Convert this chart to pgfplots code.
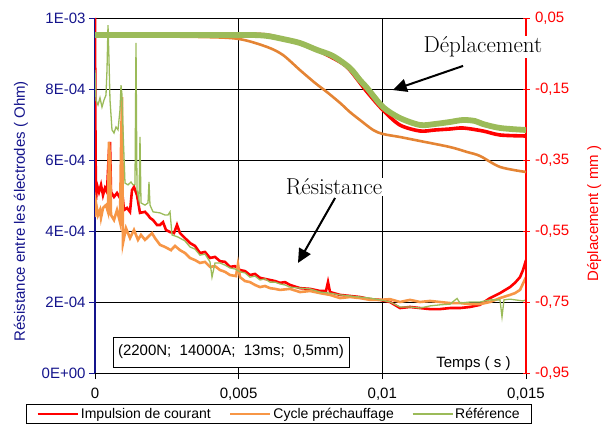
\documentclass[border=0pt]{standalone}
\usepackage{fontspec}
\usepackage{pgfplots}
\pgfplotsset{compat=1.18}
\usetikzlibrary{arrows.meta}
\newfontfamily\arial{Liberation Sans}
\definecolor{navyb}{RGB}{20,20,140}
\definecolor{xred}{RGB}{255,0,0}
\definecolor{xorange}{RGB}{247,150,70}
\definecolor{xorangeD}{RGB}{228,132,52}
\definecolor{xgreen}{RGB}{155,187,89}
\newcommand\tfont{\arial\fontsize{15bp}{18bp}\selectfont}
\begin{document}
\begin{tikzpicture}
\useasboundingbox (0,0) rectangle (602bp,427bp);
\begin{axis}[
  at={(95bp,54bp)}, anchor=south west,
  scale only axis, width=431bp, height=355bp,
  xmin=0, xmax=0.015, ymin=0, ymax=0.001,
  scaled x ticks=false, scaled y ticks=false,
  axis x line*=bottom, axis y line*=left,
  xtick={0,0.005,0.01,0.015}, xticklabels={0,{0,005},{0,01},{0,015}},
  ytick={0,0.0002,0.0004,0.0006,0.0008,0.001},
  yticklabels={0E+00,2E-04,4E-04,6E-04,8E-04,1E-03},
  grid=major, major grid style={black, line width=0.8bp},
  tick align=outside, major tick length=6bp,
  x axis line style={black, line width=0.8bp, -},
  y axis line style={navyb, line width=1.2bp, -},
  xtick style={black, line width=0.8bp},
  ytick style={navyb, line width=0.8bp},
  ticklabel style={font=\tfont},
  xticklabel style={yshift=-6bp},
  yticklabel style={navyb},
  ylabel={Résistance entre les électrodes ( Ohm)},
  ylabel style={font=\tfont, navyb, at={(axis description cs:-0.172,0.456)}, anchor=center},
  legend columns=3,
  legend style={at={(axis description cs:0.427,-0.1155)}, anchor=center, draw=black, line width=0.8bp, fill=white,
    font=\arial\fontsize{14bp}{17bp}\selectfont, inner xsep=10bp, inner ysep=1.5bp,
    /tikz/every even column/.append style={column sep=16bp}},
  legend image code/.code={\draw[#1] (0bp,0bp) -- (40bp,0bp);},
]
\addplot[xred, line width=2.6bp] coordinates {
(0,1.0e-3) (0.0000174,6.48e-4) (0.0000348,4.87e-4) (0.0000696,5.30e-4) (0.0001392,5.10e-4)
(0.0002088,5.30e-4) (0.0002784,5.01e-4) (0.000348,5.21e-4) (0.0004176,5.10e-4) (0.0004872,6.28e-4)
(0.000522,6.51e-4) (0.0005568,5.10e-4) (0.0006613,4.96e-4) (0.0007657,5.07e-4) (0.0008701,4.93e-4)
(0.0009397,5.15e-4) (0.0010093,4.59e-4) (0.0011137,4.65e-4) (0.0012181,4.54e-4) (0.0012877,5.15e-4)
(0.0013573,5.24e-4) (0.0014617,5.01e-4) (0.0015661,4.51e-4) (0.0017402,4.54e-4) (0.0018446,4.45e-4)
(0.0019142,4.37e-4) (0.0020186,4.31e-4) (0.0021578,4.17e-4) (0.0022622,4.17e-4) (0.0023666,4.25e-4)
(0.002471,4.03e-4) (0.0026102,3.97e-4) (0.0027494,3.94e-4) (0.0028538,4.17e-4) (0.0029583,3.94e-4)
(0.0031323,3.80e-4) (0.0033063,3.66e-4) (0.0034803,3.58e-4) (0.0036543,3.38e-4) (0.0038283,3.41e-4)
(0.0040023,3.24e-4) (0.0041764,3.27e-4) (0.0043504,3.15e-4) (0.0045244,3.13e-4) (0.0046984,2.99e-4)
(0.0048724,3.01e-4) (0.0050464,2.90e-4) (0.0052205,2.87e-4) (0.0053945,2.76e-4) (0.0055685,2.79e-4)
(0.0057425,2.68e-4) (0.0059165,2.65e-4) (0.0060905,2.62e-4) (0.0062645,2.59e-4) (0.0064386,2.54e-4)
(0.0066126,2.56e-4) (0.0067866,2.48e-4) (0.0071346,2.39e-4) (0.0074826,2.37e-4) (0.0078307,2.31e-4)
(0.0080395,2.31e-4) (0.0081091,2.56e-4) (0.0081787,2.28e-4) (0.0085267,2.20e-4) (0.0088748,2.17e-4)
(0.0092228,2.14e-4) (0.0095708,2.08e-4) (0.0099189,2.06e-4) (0.0102669,2.00e-4) (0.0106149,1.83e-4)
(0.0109629,1.86e-4) (0.011311,1.83e-4) (0.011659,1.80e-4) (0.012007,1.80e-4) (0.012355,1.83e-4)
(0.012703,1.83e-4) (0.013051,1.86e-4) (0.013399,1.92e-4) (0.013747,2.11e-4) (0.014095,2.25e-4)
(0.014443,2.42e-4) (0.014617,2.54e-4) (0.014791,2.70e-4) (0.014896,2.90e-4) (0.015,3.18e-4)
};
\addlegendentry{Impulsion de courant}
\addplot[xorange, line width=2.6bp] coordinates {
(0,4.39e-4) (0.0000348,4.79e-4) (0.0001044,4.45e-4) (0.000174,4.59e-4) (0.0002088,4.37e-4)
(0.0002784,4.65e-4) (0.0003828,4.73e-4) (0.0004524,4.54e-4) (0.0004872,6.51e-4) (0.000522,6.00e-4)
(0.0005568,4.45e-4) (0.0006613,4.31e-4) (0.0007657,4.59e-4) (0.0008701,4.25e-4) (0.0009049,6.28e-4)
(0.0009397,7.77e-4) (0.0009745,3.66e-4) (0.0010789,4.08e-4) (0.0012181,3.80e-4) (0.0013573,4.03e-4)
(0.0014965,3.75e-4) (0.0016009,3.89e-4) (0.0017402,3.75e-4) (0.0018446,3.83e-4) (0.0019838,3.94e-4)
(0.0020882,3.80e-4) (0.0022622,3.61e-4) (0.0024362,3.55e-4) (0.002645,3.46e-4) (0.0027842,3.58e-4)
(0.0029583,3.46e-4) (0.0031323,3.38e-4) (0.0033063,3.24e-4) (0.0034803,3.18e-4) (0.0036543,3.10e-4)
(0.0038283,3.13e-4) (0.0040023,2.99e-4) (0.0041764,3.01e-4) (0.0043504,2.90e-4) (0.0045244,2.85e-4)
(0.0046984,2.76e-4) (0.0049072,2.73e-4) (0.0049768,3.07e-4) (0.0050464,2.70e-4) (0.0052205,2.59e-4)
(0.0053945,2.56e-4) (0.0055685,2.48e-4) (0.0057425,2.42e-4) (0.0059165,2.45e-4) (0.0060905,2.39e-4)
(0.0062645,2.37e-4) (0.0064386,2.34e-4) (0.0067866,2.37e-4) (0.0071346,2.28e-4) (0.0074826,2.31e-4)
(0.0078307,2.25e-4) (0.0081787,2.20e-4) (0.0085267,2.11e-4) (0.0088748,2.14e-4) (0.0092228,2.11e-4)
(0.0095708,2.06e-4) (0.0099189,2.06e-4) (0.0102669,2.08e-4) (0.0106149,2.00e-4) (0.0109629,2.06e-4)
(0.011311,2.00e-4) (0.011659,2.03e-4) (0.012007,2.00e-4) (0.012355,1.97e-4) (0.012703,1.97e-4)
(0.013051,1.94e-4) (0.013399,1.94e-4) (0.013747,2.00e-4) (0.014095,2.11e-4) (0.014443,2.20e-4)
(0.014617,2.25e-4) (0.014791,2.34e-4) (0.015,2.70e-4)
};
\addlegendentry{Cycle préchauffage}
\addplot[xgreen, line width=1.3bp] coordinates {
(0,8.54e-4) (0.0000348,7.69e-4) (0.0001044,7.55e-4) (0.000174,7.75e-4) (0.0002436,7.49e-4)
(0.0003132,7.69e-4) (0.0003828,7.83e-4) (0.0004176,8.54e-4) (0.0004524,9.80e-4) (0.0004872,8.82e-4)
(0.000522,7.69e-4) (0.0005916,6.85e-4) (0.0006613,6.76e-4) (0.0007309,6.93e-4) (0.0008005,6.85e-4)
(0.0008701,7.41e-4) (0.0009049,8.11e-4) (0.0009397,7.83e-4) (0.0009745,6.85e-4) (0.0010441,5.35e-4)
(0.0011485,5.30e-4) (0.0012529,5.38e-4) (0.0013225,5.30e-4) (0.0013921,5.30e-4) (0.0014269,9.30e-4)
(0.0014617,5.15e-4) (0.0015313,4.87e-4) (0.0015661,6.65e-4) (0.0016009,4.79e-4) (0.0017402,4.73e-4)
(0.0018446,4.79e-4) (0.0018794,5.38e-4) (0.0019142,4.73e-4) (0.0020186,4.54e-4) (0.0022622,4.51e-4)
(0.0024362,4.45e-4) (0.0025406,4.45e-4) (0.0026102,4.54e-4) (0.0026798,3.89e-4) (0.0028886,3.83e-4)
(0.0031323,3.72e-4) (0.0033063,3.55e-4) (0.0034803,3.49e-4) (0.0036543,3.32e-4) (0.0038283,3.35e-4)
(0.0040023,3.13e-4) (0.004072,2.70e-4) (0.0041764,3.10e-4) (0.0043504,3.10e-4) (0.0045244,3.04e-4)
(0.0046984,2.96e-4) (0.0048724,2.93e-4) (0.0050464,2.85e-4) (0.0052205,2.82e-4) (0.0053945,2.70e-4)
(0.0055685,2.73e-4) (0.0057425,2.62e-4) (0.0059165,2.65e-4) (0.0060905,2.56e-4) (0.0062645,2.56e-4)
(0.0064386,2.51e-4) (0.0066126,2.48e-4) (0.0067866,2.42e-4) (0.0071346,2.39e-4) (0.0074826,2.37e-4)
(0.0078307,2.28e-4) (0.0081787,2.25e-4) (0.0085267,2.20e-4) (0.0088748,2.17e-4) (0.0092228,2.14e-4)
(0.0095708,2.11e-4) (0.0099189,2.06e-4) (0.0102669,2.00e-4) (0.0106149,1.86e-4) (0.0109629,1.86e-4)
(0.011311,1.83e-4) (0.011659,1.89e-4) (0.012007,1.92e-4) (0.012355,1.94e-4) (0.0126,2.10e-4)
(0.012703,1.97e-4) (0.013051,2.00e-4) (0.013399,2.00e-4) (0.013747,2.06e-4) (0.014095,2.06e-4)
(0.014165,1.58e-4) (0.014234,2.06e-4) (0.014443,2.08e-4) (0.014896,2.03e-4) (0.015,2.06e-4)
};
\addlegendentry{Référence}
\node[font=\tfont] at (rel axis cs:0.878,0.026) {Temps ( s )};
\node[draw=black, fill=white, line width=0.8bp, inner xsep=5bp, minimum height=30bp, font=\tfont]
  at (rel axis cs:0.3155,0.059) {(2200N;\ \ 14000A;\ \ 13ms;\ \ 0,5mm)};
\end{axis}
\begin{axis}[
  at={(95bp,54bp)}, anchor=south west,
  scale only axis, width=431bp, height=355bp, clip=false,
  xmin=0, xmax=0.015, ymin=-0.95, ymax=0.05,
  scaled x ticks=false, scaled y ticks=false,
  axis x line=none, axis y line*=right,
  ytick={-0.95,-0.75,-0.55,-0.35,-0.15,0.05},
  yticklabels={{-0,95},{-0,75},{-0,55},{-0,35},{-0,15},{0,05}},
  tick align=center, major tick length=7bp,
  y axis line style={xred, line width=1.2bp, -},
  ytick style={xred, line width=0.8bp},
  yticklabel style={xred, font=\tfont, xshift=2bp},
  ylabel={Déplacement ( mm )},
  ylabel style={font=\tfont, xred, at={(axis description cs:1.158,0.449)}, anchor=center},
]
\addplot[xorangeD, line width=2.6bp, smooth] coordinates {
(0,-0.0007) (0.00365,-0.0035) (0.00501,-0.0092) (0.00599,-0.0317) (0.00654,-0.0542)
(0.00713,-0.0965) (0.00766,-0.1331) (0.00807,-0.1585) (0.00853,-0.1894) (0.00887,-0.2148)
(0.00922,-0.2373) (0.00968,-0.2655) (0.01002,-0.2768) (0.01061,-0.2852) (0.01131,-0.2965)
(0.01235,-0.3134) (0.01295,-0.3275) (0.0134,-0.3387) (0.0141,-0.3697) (0.015,-0.3838)
};
\addplot[xred, line width=3.6bp, smooth] coordinates {
(0,0.0021) (0.0037,0.0035) (0.0054,0.0035) (0.00599,0.0021) (0.00654,-0.0092) (0.00713,-0.0204)
(0.00773,-0.0401) (0.00853,-0.0739) (0.00887,-0.0965) (0.00947,-0.1585) (0.01002,-0.2092)
(0.01061,-0.2514) (0.01131,-0.2683) (0.01183,-0.2655) (0.01235,-0.2627) (0.01281,-0.2599)
(0.0135,-0.2683) (0.0141,-0.2796) (0.015,-0.2824)
};
\addplot[xgreen, line width=5.8bp, smooth] coordinates {
(0,0.0021) (0.0019,0.0021) (0.0037,0.0021) (0.0054,0.0021) (0.006,-0.0007) (0.00654,-0.0092)
(0.00713,-0.0204) (0.00773,-0.0401) (0.00828,-0.057) (0.00887,-0.0908) (0.00922,-0.125)
(0.00947,-0.1472) (0.01002,-0.2007) (0.01061,-0.2317) (0.01131,-0.2514) (0.01183,-0.2486)
(0.01235,-0.243) (0.01281,-0.2373) (0.01322,-0.2401) (0.0135,-0.2486) (0.0141,-0.2599) (0.015,-0.2655)
};
\node[fill=white, inner sep=1bp, font=\fontsize{23bp}{27bp}\selectfont] at (rel axis cs:0.900,0.918) {Déplacement};
\draw[line width=2bp, -{Triangle[length=14bp, width=13bp]}] (rel axis cs:0.854,0.865) -- (rel axis cs:0.691,0.797);
\node[fill=white, inner sep=1bp, font=\fontsize{23bp}{27bp}\selectfont] at (rel axis cs:0.5545,0.524) {Résistance};
\draw[line width=2bp, -{Triangle[length=14bp, width=13bp]}] (rel axis cs:0.557,0.493) -- (rel axis cs:0.471,0.310);
\end{axis}
\end{tikzpicture}
\end{document}
